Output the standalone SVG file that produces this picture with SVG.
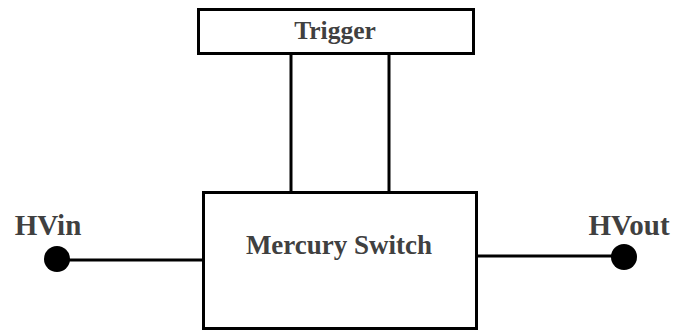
<svg xmlns="http://www.w3.org/2000/svg" width="674" height="331" viewBox="0 0 674 331">
  <style>
    .box { fill: #ffffff; stroke: #000000; stroke-width: 3; }
    .wire { fill: none; stroke: #000000; stroke-width: 3; }
    .term { fill: #000000; }
    .lbl { font-family: "Liberation Serif", "Times New Roman", serif; font-weight: bold; fill: #404040; }
  </style>
  <rect width="674" height="331" fill="#ffffff"/>
  <g id="connectors">
    <line class="wire" x1="291" y1="54" x2="291" y2="192"/>
    <line class="wire" x1="389" y1="54" x2="389" y2="192"/>
    <line class="wire" x1="57" y1="260" x2="203" y2="260"/>
    <line class="wire" x1="477" y1="256" x2="624" y2="256"/>
  </g>
  <g id="trigger">
    <rect class="box" x="198.5" y="9.5" width="275" height="44"/>
    <text class="lbl" x="335" y="39" font-size="25.5" text-anchor="middle">Trigger</text>
  </g>
  <g id="mercury-switch">
    <rect class="box" x="203.5" y="192.5" width="273" height="136"/>
    <text class="lbl" x="339" y="254" font-size="27" text-anchor="middle">Mercury Switch</text>
  </g>
  <g id="hvin">
    <circle class="term" cx="57" cy="259" r="13"/>
    <text class="lbl" x="48" y="235" font-size="29" text-anchor="middle">HVin</text>
  </g>
  <g id="hvout">
    <circle class="term" cx="624" cy="257" r="13"/>
    <text class="lbl" x="629" y="235" font-size="29" text-anchor="middle">HVout</text>
  </g>
</svg>
